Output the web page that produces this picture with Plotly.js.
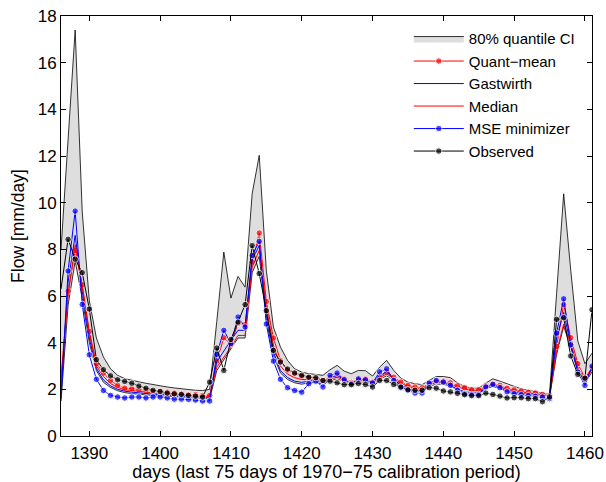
<!DOCTYPE html>
<html>
<head>
<meta charset="utf-8">
<script src="https://cdn.plot.ly/plotly-3.0.1.min.js"></script>
<style>html,body{margin:0;padding:0;background:#fff;}#chart{width:606px;height:482px;}</style>
</head>
<body>
<div id="chart"></div>
<script>
// days 1386 .. 1461
const days = [];
for (let d = 1386; d <= 1461; d++) days.push(d);

const observed = [6.3,8.43,7.58,7.0,5.44,3.27,2.84,2.58,2.41,2.34,2.26,2.14,2.05,1.96,1.91,1.84,1.81,1.78,1.74,1.71,1.67,2.31,3.77,2.81,4.14,4.88,5.63,8.16,6.96,5.37,3.67,3.17,2.87,2.70,2.60,2.52,2.50,2.38,2.35,2.28,2.20,2.20,2.25,2.21,2.10,2.38,2.38,2.21,2.10,1.98,1.96,1.96,2.07,2.05,1.93,1.89,1.83,1.77,1.73,1.73,1.84,1.78,1.71,1.63,1.64,1.64,1.60,1.60,1.47,1.67,5.00,5.07,3.43,2.64,2.48,5.41];

const mseMin = [1.6,7.07,9.64,5.64,3.48,2.43,1.95,1.74,1.67,1.63,1.67,1.67,1.63,1.67,1.67,1.63,1.58,1.58,1.57,1.54,1.50,1.50,3.5,4.53,3.96,5.10,4.67,7.74,8.34,4.80,3.21,2.43,2.07,1.95,1.88,2.24,2.35,2.10,2.60,2.70,2.41,2.24,2.45,2.41,2.27,2.75,2.88,2.38,2.07,1.96,1.84,1.84,2.27,2.38,2.31,2.17,1.96,1.81,1.78,1.78,2.10,2.21,2.07,1.89,1.81,1.77,1.73,1.70,1.67,1.60,4.41,5.88,3.91,2.74,2.17,3.00];

const quantMean = [2.5,6.21,7.96,6.48,4.48,3.10,2.70,2.38,2.17,2.05,2.03,1.98,1.96,1.91,1.91,1.88,1.84,1.81,1.78,1.78,1.74,1.74,3.21,4.21,3.93,4.83,4.77,7.45,8.70,5.77,4.20,3.24,2.82,2.67,2.55,2.50,2.45,2.38,2.50,2.60,2.45,2.30,2.41,2.45,2.31,2.52,2.74,2.52,2.31,2.17,2.10,2.07,2.24,2.35,2.35,2.28,2.15,2.07,1.98,1.98,2.15,2.24,2.17,2.05,1.98,1.93,1.87,1.84,1.78,1.74,3.84,5.63,4.21,3.10,2.47,2.93];

const gastwirth = [1.8,6.6,8.6,6.2,4.2,2.9,2.4,2.15,2.0,1.92,1.88,1.84,1.82,1.79,1.78,1.75,1.72,1.7,1.68,1.66,1.64,1.64,3.18,3.67,4.1,4.53,4.53,7.53,8.17,5.24,3.6,2.8,2.5,2.35,2.3,2.35,2.38,2.28,2.5,2.6,2.4,2.25,2.38,2.38,2.25,2.6,2.75,2.42,2.18,2.05,1.96,1.95,2.2,2.3,2.28,2.18,2.02,1.9,1.85,1.85,2.08,2.18,2.08,1.95,1.88,1.84,1.8,1.77,1.74,1.7,4.2,5.3,3.9,2.85,2.3,2.9];

const median = [2.3,6.0,8.2,6.4,4.4,3.0,2.55,2.25,2.08,1.98,1.95,1.9,1.88,1.84,1.83,1.8,1.77,1.75,1.72,1.71,1.68,1.68,2.95,3.38,3.81,4.31,4.31,7.24,7.96,5.52,3.9,3.0,2.65,2.5,2.42,2.42,2.4,2.32,2.45,2.52,2.4,2.27,2.36,2.4,2.27,2.5,2.66,2.46,2.26,2.12,2.05,2.03,2.2,2.3,2.3,2.23,2.1,2.02,1.94,1.94,2.1,2.19,2.12,2.0,1.94,1.89,1.84,1.81,1.76,1.72,3.6,4.8,3.95,2.95,2.4,2.85];

const ciLower = [1.5,5.6,7.5,5.9,4.0,2.8,2.3,2.08,1.94,1.86,1.82,1.78,1.76,1.73,1.72,1.7,1.67,1.65,1.63,1.61,1.59,1.59,2.8,3.25,3.7,4.2,4.2,7.0,7.7,5.0,3.45,2.7,2.42,2.28,2.22,2.28,2.3,2.22,2.38,2.45,2.33,2.2,2.3,2.32,2.2,2.42,2.58,2.36,2.14,2.0,1.92,1.9,2.12,2.22,2.22,2.13,1.98,1.86,1.8,1.8,2.02,2.12,2.04,1.92,1.85,1.8,1.76,1.73,1.7,1.66,3.5,4.7,3.8,2.75,2.25,2.75];

const ciUpper = [8.0,12.5,17.4,9.6,5.8,4.2,3.38,2.88,2.6,2.46,2.38,2.32,2.26,2.2,2.15,2.1,2.06,2.02,1.98,1.96,1.95,2.0,4.9,7.88,5.91,6.84,6.38,10.38,12.03,7.1,4.67,3.81,3.24,2.88,2.74,2.67,2.64,2.6,2.84,3.03,2.78,2.67,2.81,2.80,2.57,2.95,3.24,2.81,2.48,2.31,2.24,2.20,2.38,2.55,2.55,2.50,2.28,2.12,2.05,2.05,2.27,2.45,2.35,2.24,2.12,2.02,1.96,1.90,1.86,1.78,6.1,10.38,7.1,4.07,3.1,3.55];

const xTicks = [1390,1400,1410,1420,1430,1440,1450,1460];
const yTicks = [0,2,4,6,8,10,12,14,16,18];

const mSizes = days.map((d, i) => i === 0 ? 0 : 6.5);
const FONT = 'Liberation Sans, Arial, sans-serif';

const traces = [
  {x: days, y: ciLower, mode: 'lines', line: {color: '#000', width: 0.8}, showlegend: false, hoverinfo: 'skip'},
  {x: days, y: ciUpper, mode: 'lines', fill: 'tonexty', fillcolor: '#dedede', line: {color: '#000', width: 0.8}, name: '80% quantile CI'},
  {x: days, y: quantMean, mode: 'lines+markers', line: {color: '#ff0000', width: 1}, marker: {color: '#ff0000', size: mSizes}, name: 'Quant\u2212mean'},
  {x: days, y: gastwirth, mode: 'lines', line: {color: '#0000ff', width: 1}, name: 'Gastwirth'},
  {x: days, y: median, mode: 'lines', line: {color: '#ff0000', width: 1}, name: 'Median'},
  {x: days, y: mseMin, mode: 'lines+markers', line: {color: '#0000ff', width: 1}, marker: {color: '#0000ff', size: mSizes}, name: 'MSE minimizer'},
  {x: days, y: observed, mode: 'lines+markers', line: {color: '#000000', width: 1}, marker: {color: '#000000', size: mSizes}, name: 'Observed'}
];

const axisCommon = {
  showline: true, linecolor: '#000', linewidth: 1, mirror: 'ticks',
  ticks: 'inside', ticklen: 5, tickcolor: '#000', tickwidth: 1,
  showgrid: false, zeroline: false,
  tickfont: {family: FONT, size: 17, color: '#000'}
};

const layout = {
  width: 606, height: 482,
  margin: {l: 61, r: 14, t: 16, b: 46},
  paper_bgcolor: '#fff', plot_bgcolor: '#fff',
  font: {family: FONT, color: '#000'},
  xaxis: Object.assign({}, axisCommon, {
    range: [1386, 1461], tickvals: xTicks, ticklabelstandoff: 2,
    title: {text: 'days (last 75 days of 1970\u221275 calibration period)', font: {size: 18}, standoff: 2}
  }),
  yaxis: Object.assign({}, axisCommon, {
    range: [0, 18], tickvals: yTicks,
    title: {text: 'Flow [mm/day]', font: {size: 17.5}, standoff: 8}
  }),
  legend: {
    x: 0.655, y: 0.985, xanchor: 'left', yanchor: 'top',
    traceorder: 'normal',
    bgcolor: 'rgba(255,255,255,0)', borderwidth: 0,
    font: {size: 15, family: FONT},
    itemwidth: 50,
    tracegroupgap: 0
  },
  showlegend: true
};

Plotly.newPlot('chart', traces, layout, {staticPlot: true, displayModeBar: false});
</script>
</body>
</html>
